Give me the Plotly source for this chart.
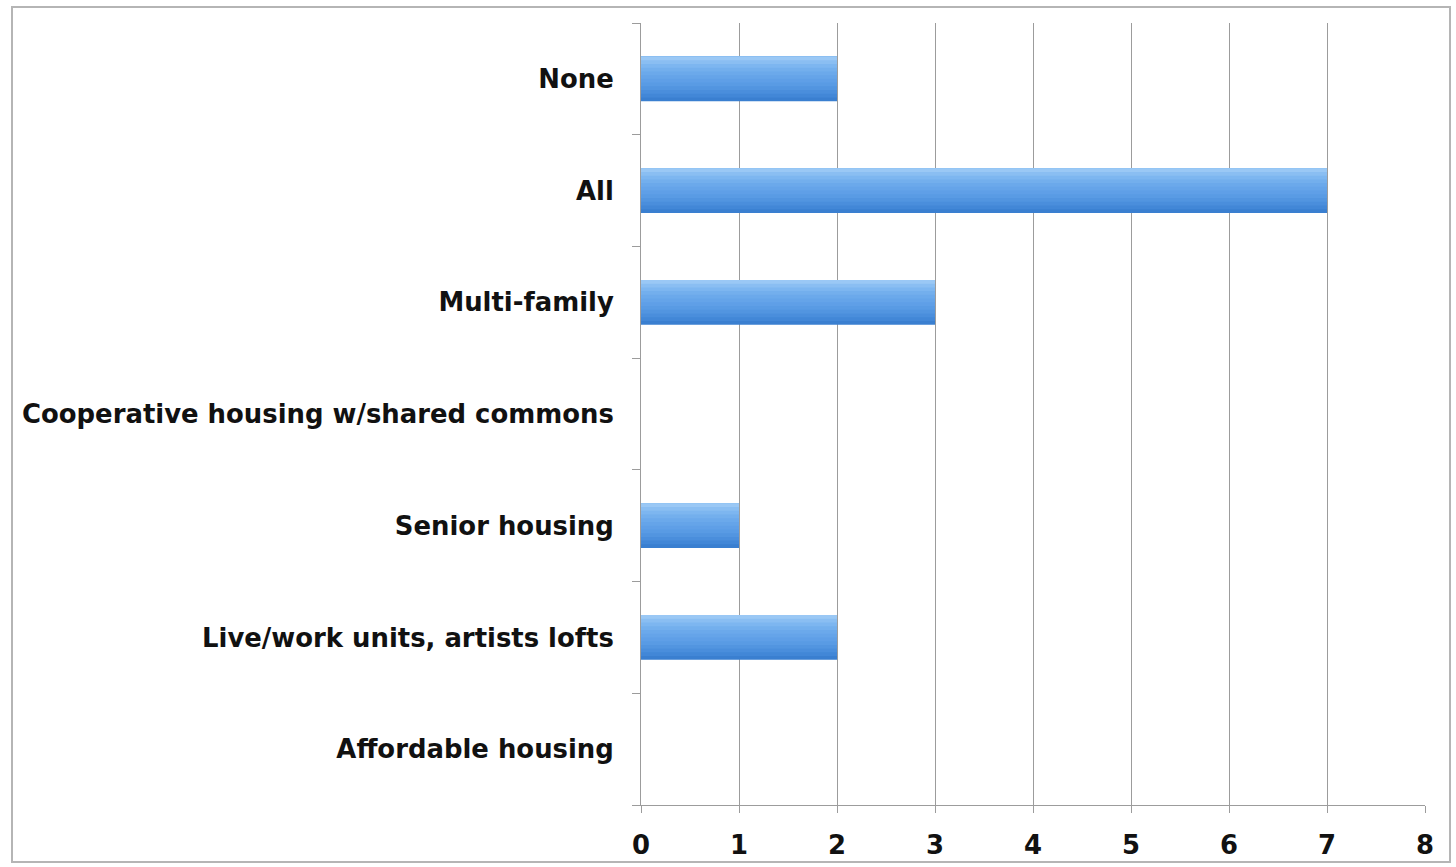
import plotly.graph_objects as go

# Housing types, listed bottom to top as drawn on the category axis
categories = [
    "Affordable housing",
    "Live/work units, artists lofts",
    "Senior housing",
    "Cooperative housing w/shared commons",
    "Multi-family",
    "All",
    "None",
]
counts = [0, 2, 1, 0, 3, 7, 2]
x_ticks = [0, 1, 2, 3, 4, 5, 6, 7, 8]

W, H = 1456, 867
M_L, M_R, M_T, M_B = 641, 31, 23, 62

# vertical shading of the bars, from the darker bottom edge to the light top edge
shade = ["#3a7fd0", "#4287d7", "#4a8edc", "#5295e0", "#599be4", "#5f9fe7",
         "#65a4e9", "#6ba9eb", "#73afed", "#7db6f0", "#8abef2", "#9ac8f5"]
bar_w = 0.4
n = len(shade)

fig = go.Figure()
for i, c in enumerate(shade):
    # each layer runs from its start to the top of the bar, so the layers overlap without seams
    start = -bar_w / 2 + i * bar_w / n
    fig.add_trace(go.Bar(
        y=categories, x=counts, orientation="h",
        width=bar_w / 2 - start, offset=start,
        marker=dict(color=c, line=dict(width=0)),
        showlegend=False, hoverinfo="x+y",
    ))

tick_font = dict(family="DejaVu Sans, sans-serif", size=25.9, color="#111111",
                 weight="bold")

fig.update_layout(
    width=W, height=H,
    margin=dict(l=M_L, r=M_R, t=M_T, b=M_B),
    barmode="overlay",
    plot_bgcolor="white", paper_bgcolor="white",
    font=dict(family="DejaVu Sans, sans-serif", size=24, color="#111111"),
    xaxis=dict(
        range=[0, 8], tickvals=x_ticks, ticktext=[str(v) for v in x_ticks],
        showgrid=True, gridcolor="#9c9c9c", gridwidth=1,
        showline=True, linecolor="#9c9c9c", linewidth=1,
        ticks="outside", ticklen=7, tickcolor="#9c9c9c",
        ticklabelstandoff=10, tickfont=tick_font,
        zeroline=False, fixedrange=True, automargin=False,
    ),
    yaxis=dict(
        categoryorder="array", categoryarray=categories,
        tickson="boundaries", ticks="outside", ticklen=8, tickcolor="#9c9c9c",
        showline=True, linecolor="#9c9c9c", linewidth=1,
        showgrid=False, ticklabelstandoff=21, tickfont=tick_font,
        fixedrange=True, automargin=False,
    ),
)

# outer frame around the whole chart
pw, ph = W - M_L - M_R, H - M_T - M_B
fig.add_shape(
    type="rect", xref="paper", yref="paper",
    x0=(12 - M_L) / pw, x1=(1450 - M_L) / pw,
    y0=(H - M_B - 862) / ph, y1=(H - M_B - 7) / ph,
    line=dict(color="#b5b5b5", width=2), fillcolor="rgba(0,0,0,0)",
    layer="below",
)

fig.write_html("out.html")
